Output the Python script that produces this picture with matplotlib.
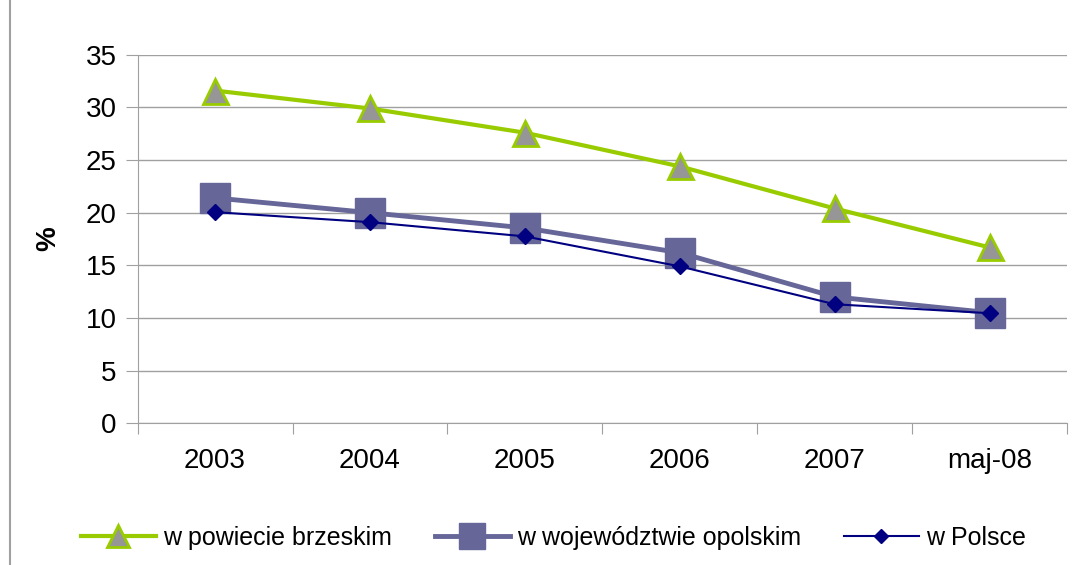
import matplotlib.pyplot as plt
from matplotlib.patches import Rectangle

plt.rcParams['font.family'] = ['Liberation Sans', 'DejaVu Sans']

categories = ['2003', '2004', '2005', '2006', '2007', 'maj-08']
powiat = [31.6, 29.9, 27.6, 24.4, 20.4, 16.7]
wojewodztwo = [21.4, 20.0, 18.55, 16.2, 12.0, 10.5]
polska = [20.05, 19.1, 17.75, 14.9, 11.3, 10.45]
yticks = [0, 5, 10, 15, 20, 25, 30, 35]

fig = plt.figure(figsize=(10.75, 5.65), dpi=100)
ax = fig.add_axes([0.128, 0.251, 0.8646, 0.652])

# outer chart border
fig.patches.append(Rectangle((0.009, -0.01), 1.0, 1.02, transform=fig.transFigure,
                             fill=False, edgecolor='#a0a0a0', lw=1.5))

x = list(range(len(categories)))
ax.plot(x, powiat, color='#99cc00', lw=3, marker='^', ms=18,
        markerfacecolor='#969696', markeredgecolor='#99cc00', markeredgewidth=2,
        label='w powiecie brzeskim', zorder=3)
ax.plot(x, wojewodztwo, color='#666699', lw=3.5, marker='s', ms=22,
        markerfacecolor='#666699', markeredgecolor='#666699',
        label='w województwie opolskim', zorder=4)
ax.plot(x, polska, color='#000080', lw=1.5, marker='D', ms=8,
        markerfacecolor='#000080', markeredgecolor='#000080',
        label='w Polsce', zorder=5)

ax.set_xlim(-0.5, len(categories) - 0.5)
ax.set_ylim(0, 35)
ax.set_yticks(yticks)
ax.yaxis.grid(True, color='#a0a0a0', lw=1)
ax.set_axisbelow(True)

# category ticks between categories, labels centred
ax.set_xticks([i - 0.5 for i in range(len(categories) + 1)])
ax.set_xticklabels([])
ax.set_xticks(x, minor=True)
ax.set_xticklabels(categories, minor=True)
ax.tick_params(axis='x', which='major', length=8, color='#a0a0a0', direction='out')
ax.tick_params(axis='x', which='minor', length=0, labelsize=20, pad=18)
ax.tick_params(axis='y', length=9, color='#a0a0a0', labelsize=20, pad=6)

for side in ['top', 'right']:
    ax.spines[side].set_visible(False)
for side in ['left', 'bottom']:
    ax.spines[side].set_color('#a0a0a0')

ax.set_ylabel('%', fontsize=20, fontweight='bold', labelpad=18)

fig.legend(loc='center', bbox_to_anchor=(0.515, 0.048), ncol=3, frameon=False,
           fontsize=18, handlelength=3, columnspacing=1.7, handletextpad=0.3,
           markerscale=0.85)

plt.savefig('out.png')
